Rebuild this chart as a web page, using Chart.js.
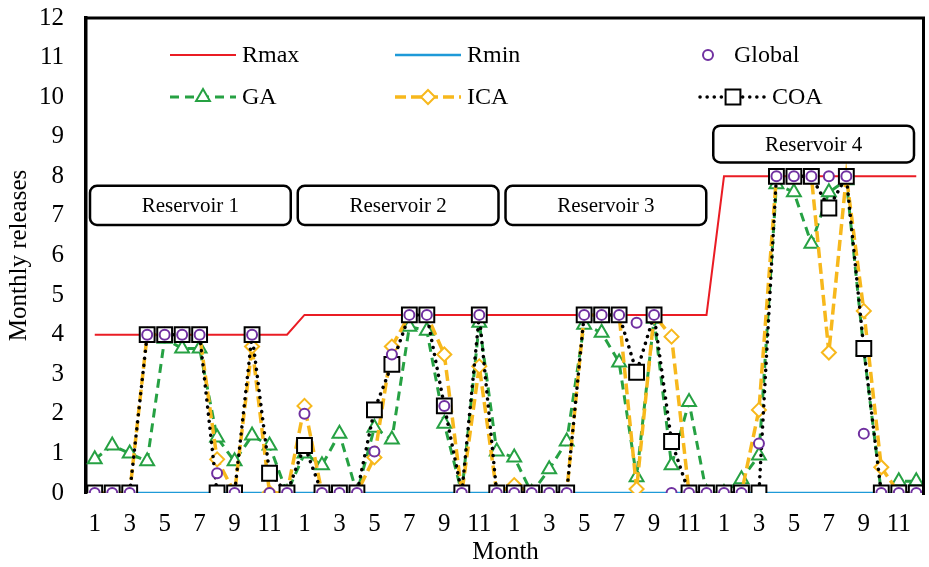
<!DOCTYPE html>
<html>
<head>
<meta charset="utf-8">
<title>Monthly releases</title>
<script src="https://cdn.jsdelivr.net/npm/chart.js@4"></script>
<style type="text/css">
body { margin: 0; background: #fff; }
</style>
</head>
<body>
<canvas id="chart" width="929" height="567"></canvas>
<script type="text/javascript">

// month labels, 4 reservoirs x 12 months
var months = [1,2,3,4,5,6,7,8,9,10,11,12, 1,2,3,4,5,6,7,8,9,10,11,12,
              1,2,3,4,5,6,7,8,9,10,11,12, 1,2,3,4,5,6,7,8,9,10,11,12];

var reservoirs = ['Reservoir 1', 'Reservoir 2', 'Reservoir 3', 'Reservoir 4'];

var rmax = [4,4,4,4,4,4,4,4,4,4,4,4,
            4.5,4.5,4.5,4.5,4.5,4.5,4.5,4.5,4.5,4.5,4.5,4.5,
            4.5,4.5,4.5,4.5,4.5,4.5,4.5,4.5,4.5,4.5,4.5,4.5,
            8,8,8,8,8,8,8,8,8,8,8,8];

var rmin = [0,0,0,0,0,0,0,0,0,0,0,0, 0,0,0,0,0,0,0,0,0,0,0,0,
            0,0,0,0,0,0,0,0,0,0,0,0, 0,0,0,0,0,0,0,0,0,0,0,0];

var globalOpt = [0,0,0,4,4,4,4,0.5,0,4,0,0,
                 2.0,0,0,0,1.05,3.5,4.5,4.5,2.2,0,4.5,0,
                 0,0,0,0,4.5,4.5,4.5,4.3,4.5,0,0,0,
                 0,0,1.25,8,8,8,8,8,1.5,0,0,0];

var ga = [0.85,1.2,1.0,0.8,3.9,3.65,3.65,1.4,0.8,1.45,1.2,0,
          1.0,0.7,1.5,0,1.65,1.35,4.2,4.1,1.75,0,4.3,1.05,
          0.9,0,0.6,1.3,4.25,4.05,3.3,0.4,4.4,0.7,2.3,0,
          0,0.35,0.95,7.8,7.6,6.3,7.6,7.9,3.6,0,0.3,0.3];

var ica = [0,0,0,4,4,4,4,0.85,0,3.7,0,0,
           2.2,0,0,0,0.9,3.7,4.5,4.5,3.5,0,3.2,0,
           0.2,0,0,0,4.5,4.5,4.5,0.1,4.5,3.95,0,0,
           0,0,2.1,8,8,8,3.55,8,4.6,0.65,0,0];

var coa = [0,0,0,4,4,4,4,0,0,4,0.5,0,
           1.2,0,0,0,2.1,3.25,4.5,4.5,2.2,0,4.5,0,
           0,0,0,0,4.5,4.5,4.5,3.05,4.5,1.3,0,0,
           0,0,0,8,8,8,7.2,8,3.65,0,0,0];

var FONT = 'Liberation Serif';
var RED = '#ea1c24', BLUE = '#1e9ad8', PURPLE = '#7030a0',
    GREEN = '#26a143', GOLD = '#f7b81c', BLACK = '#000000';

function marker(ctx, style, x, y, r, color, lw) {
	ctx.save();
	ctx.beginPath();
	if (style == 'circle') {
		ctx.arc(x, y, r, 0, Math.PI * 2);
	} else if (style == 'triangle') {
		ctx.moveTo(x, y - r);
		ctx.lineTo(x + r * 0.866, y + r * 0.5);
		ctx.lineTo(x - r * 0.866, y + r * 0.5);
		ctx.closePath();
	} else if (style == 'rectRot') {
		ctx.moveTo(x, y - r); ctx.lineTo(x + r, y); ctx.lineTo(x, y + r); ctx.lineTo(x - r, y);
		ctx.closePath();
	} else {
		var s = r * Math.SQRT1_2;
		ctx.rect(x - s, y - s, 2 * s, 2 * s);
	}
	ctx.fillStyle = '#fff';
	ctx.fill();
	ctx.lineWidth = lw;
	ctx.strokeStyle = color;
	ctx.stroke();
	ctx.restore();
}

function roundBox(ctx, x1, y1, x2, y2, r) {
	ctx.beginPath();
	ctx.moveTo(x1 + r, y1);
	ctx.lineTo(x2 - r, y1);
	ctx.arcTo(x2, y1, x2, y1 + r, r);
	ctx.lineTo(x2, y2 - r);
	ctx.arcTo(x2, y2, x2 - r, y2, r);
	ctx.lineTo(x1 + r, y2);
	ctx.arcTo(x1, y2, x1, y2 - r, r);
	ctx.lineTo(x1, y1 + r);
	ctx.arcTo(x1, y1, x1 + r, y1, r);
	ctx.closePath();
}

// frame, reservoir labels and the legend inside the plot
var extras = {
	id: 'extras',
	afterDraw: function(chart) {
		var ctx = chart.ctx, a = chart.chartArea;
		var xs = chart.scales.x, ys = chart.scales.y;
		ctx.save();
		ctx.strokeStyle = '#000';
		ctx.lineWidth = 3;
		ctx.beginPath();
		ctx.moveTo(a.left, a.top);
		ctx.lineTo(a.right - 1.5, a.top);
		ctx.lineTo(a.right - 1.5, a.bottom + 2);
		ctx.stroke();

		// reservoir boxes
		var half = (xs.getPixelForValue(1) - xs.getPixelForValue(0)) / 2;
		for (var k = 0; k < reservoirs.length; k++) {
			var x1 = xs.getPixelForValue(k * 12) - half + 4 - 2 * k;
			var x2 = xs.getPixelForValue(k * 12 + 11) + half - 5 - 2 * k;
			var top = k == 3 ? ys.getPixelForValue(9.28) : ys.getPixelForValue(7.76);
			var bot = k == 3 ? ys.getPixelForValue(8.35) : ys.getPixelForValue(6.77);
			roundBox(ctx, x1, top, x2, bot, 7);
			ctx.fillStyle = '#fff';
			ctx.fill();
			ctx.lineWidth = 2.5;
			ctx.strokeStyle = '#000';
			ctx.stroke();
			ctx.fillStyle = '#000';
			ctx.font = '21px "' + FONT + '"';
			ctx.textAlign = 'center';
			ctx.textBaseline = 'middle';
			ctx.fillText(reservoirs[k], (x1 + x2) / 2, (top + bot) / 2 + 1);
		}

		// legend
		var items = [
			{t: 'Rmax', c: RED, dash: [], lw: 2, m: null, x: 170, y: 55, len: 66},
			{t: 'Rmin', c: BLUE, dash: [], lw: 2.5, m: null, x: 395, y: 55, len: 66},
			{t: 'Global', c: PURPLE, dash: null, lw: 2, m: 'circle', r: 5, x: 688, y: 55, len: 40},
			{t: 'GA', c: GREEN, dash: [9, 6], lw: 3, m: 'triangle', r: 8, x: 170, y: 97, len: 66},
			{t: 'ICA', c: GOLD, dash: [11, 5], lw: 3.5, m: 'rectRot', r: 7, x: 395, y: 97, len: 66},
			{t: 'COA', c: BLACK, dash: [0.1, 7], lw: 3.5, m: 'rect', r: 10.5, x: 700, y: 97, len: 66}
		];
		items.forEach(function(it) {
			var len = it.len;
			if (it.dash) {
				ctx.save();
				ctx.beginPath();
				ctx.setLineDash(it.dash);
				ctx.lineCap = it.t == 'COA' ? 'round' : 'butt';
				ctx.lineWidth = it.lw;
				ctx.strokeStyle = it.c;
				ctx.moveTo(it.x, it.y);
				ctx.lineTo(it.x + len, it.y);
				ctx.stroke();
				ctx.restore();
			}
			if (it.m) {
				marker(ctx, it.m, it.x + len / 2, it.y, it.r, it.c, 2);
			}
			ctx.fillStyle = '#000';
			ctx.font = '24px "' + FONT + '"';
			ctx.textAlign = 'left';
			ctx.textBaseline = 'middle';
			ctx.fillText(it.t, it.x + len + 6, it.y + 1);
		});
		ctx.restore();
	}
};

function ds(label, data, color, opts) {
	var d = {
		label: label,
		data: data,
		borderColor: color,
		backgroundColor: '#fff',
		pointBorderColor: color,
		pointBackgroundColor: '#fff',
		fill: false,
		tension: 0
	};
	for (var k in opts) d[k] = opts[k];
	return d;
}

var ctx = document.getElementById('chart').getContext('2d');
var chart = new Chart(ctx, {
	type: 'line',
	data: {
		labels: months,
		datasets: [
			ds('Rmax', rmax, RED, {borderWidth: 2, pointRadius: 0, order: 6}),
			ds('Rmin', rmin, BLUE, {borderWidth: 2.5, pointRadius: 0, order: 5}),
			ds('GA', ga, GREEN, {borderWidth: 3, borderDash: [9, 6], pointStyle: 'triangle', pointRadius: 8, pointBorderWidth: 2, order: 4}),
			ds('ICA', ica, GOLD, {borderWidth: 3.5, borderDash: [11, 5], pointStyle: 'rectRot', pointRadius: 7, pointBorderWidth: 2, order: 3}),
			ds('COA', coa, BLACK, {borderWidth: 3.5, borderDash: [0.1, 7], borderCapStyle: 'round', pointStyle: 'rect', pointRadius: 10.5, pointBorderWidth: 2, order: 2}),
			ds('Global', globalOpt, PURPLE, {showLine: false, pointStyle: 'circle', pointRadius: 5, pointBorderWidth: 2, order: 1})
		]
	},
	options: {
		responsive: false,
		animation: false,
		layout: {autoPadding: false, padding: {top: 18, right: 4, left: 0, bottom: 0}},
		plugins: {legend: {display: false}, tooltip: {enabled: false}},
		scales: {
			x: {
				offset: true,
				grid: {display: false, drawTicks: false},
				border: {display: false},
				ticks: {
					autoSkip: false, maxRotation: 0, padding: 16, color: '#000',
					font: {family: FONT, size: 25},
					callback: function(v, i) { return i % 2 == 0 ? months[i] : ''; }
				},
				title: {display: true, text: 'Month', color: '#000', font: {family: FONT, size: 25}, padding: {top: 0, bottom: 0}},
				afterFit: function(s) { s.height = 74; s.paddingLeft = 0; s.paddingRight = 0; }
			},
			y: {
				min: 0, max: 12,
				grid: {display: false, drawTicks: false},
				border: {display: true, color: '#000', width: 3.5},
				ticks: {stepSize: 1, padding: 22, color: '#000', font: {family: FONT, size: 25}},
				title: {display: true, text: 'Monthly releases', color: '#000', font: {family: FONT, size: 25}, padding: {top: 4, bottom: 0}},
				afterFit: function(s) { s.width = 86; s.paddingTop = 0; s.paddingBottom = 0; }
			}
		}
	},
	plugins: [extras]
});

</script>
</body>
</html>
